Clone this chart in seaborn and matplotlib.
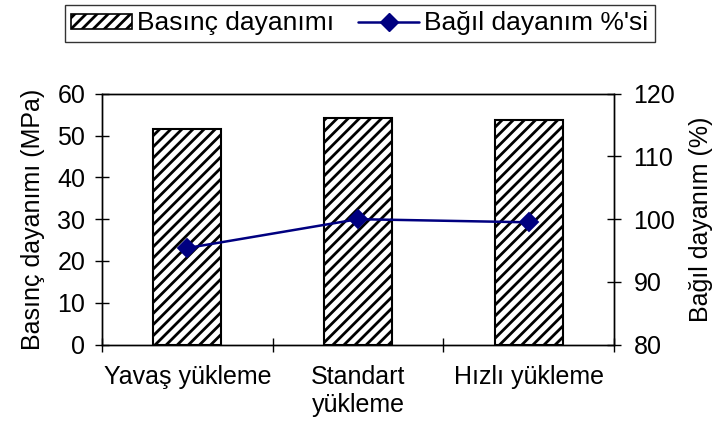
import matplotlib
matplotlib.use("Agg")
import matplotlib.pyplot as plt
import seaborn as sns
import pandas as pd
from matplotlib.patches import Patch
from matplotlib.lines import Line2D
from matplotlib.ticker import FixedLocator

categories = ["Yavaş yükleme", "Standart\nyükleme", "Hızlı yükleme"]
strength = [51.6, 54.1, 53.8]
relative = [95.4, 100.0, 99.5]
left_ticks = [0, 10, 20, 30, 40, 50, 60]
right_ticks = [80, 90, 100, 110, 120]

sns.set_style("white")
plt.rcParams['font.family'] = ['Liberation Sans', 'DejaVu Sans']
plt.rcParams['hatch.linewidth'] = 2.0
plt.rcParams['hatch.color'] = 'black'
plt.rcParams['text.color'] = 'black'
plt.rcParams['axes.labelcolor'] = 'black'
plt.rcParams['xtick.color'] = 'black'
plt.rcParams['ytick.color'] = 'black'

FS = 18
df = pd.DataFrame({"cat": categories, "strength": strength, "relative": relative})

fig = plt.figure(figsize=(7.17, 4.34), dpi=100)
ax = fig.add_axes([0.1423, 0.206, 0.714, 0.578])

sns.barplot(data=df, x="cat", y="strength", ax=ax, width=0.4,
            color="white", edgecolor="black", linewidth=1.5, hatch="///",
            saturation=1)
ax.set_ylim(0, 60)
ax.set_xlim(-0.5, 2.5)
ax.set_yticks(left_ticks)
ax.set_xlabel("")
ax.set_ylabel("Basınç dayanımı (MPa)", fontsize=FS, labelpad=9)
ax.tick_params(axis='y', labelsize=FS, direction='inout', length=10, width=1, pad=7)
ax.tick_params(axis='x', which='major', labelsize=FS, length=0, pad=15)
ax.xaxis.set_minor_locator(FixedLocator([-0.5, 0.5, 1.5, 2.5]))
ax.tick_params(axis='x', which='minor', direction='inout', length=10, width=1, bottom=True)
for s in ax.spines.values():
    s.set_color('black')
    s.set_linewidth(1)

ax2 = ax.twinx()
sns.pointplot(data=df, x="cat", y="relative", ax=ax2, color="#000080",
              markers="D", markersize=9, linewidth=1.8)
ax2.set_ylim(80, 120)
ax2.set_xlim(-0.5, 2.5)
ax2.set_yticks(right_ticks)
ax2.set_ylabel("Bağıl dayanım (%)", fontsize=FS, labelpad=10)
ax2.tick_params(axis='y', labelsize=FS, direction='inout', length=10, width=1, pad=9)
for s in ax2.spines.values():
    s.set_color('black')
    s.set_linewidth(1)

handles = [Patch(facecolor='white', edgecolor='black', hatch='///', linewidth=1.2),
           Line2D([0], [0], color='#000080', marker='D', markersize=9, linewidth=1.8)]
leg = fig.legend(handles, ["Basınç dayanımı", "Bağıl dayanım %'si"], ncol=2,
                 loc='center', bbox_to_anchor=(0.502, 0.946), fontsize=19,
                 frameon=True, fancybox=False, edgecolor='black',
                 handlelength=2.3, handleheight=0.5, handletextpad=0.2,
                 columnspacing=0.9, borderpad=0.25, borderaxespad=0)
leg.get_frame().set_linewidth(1)

fig.savefig("out.png", dpi=100)
